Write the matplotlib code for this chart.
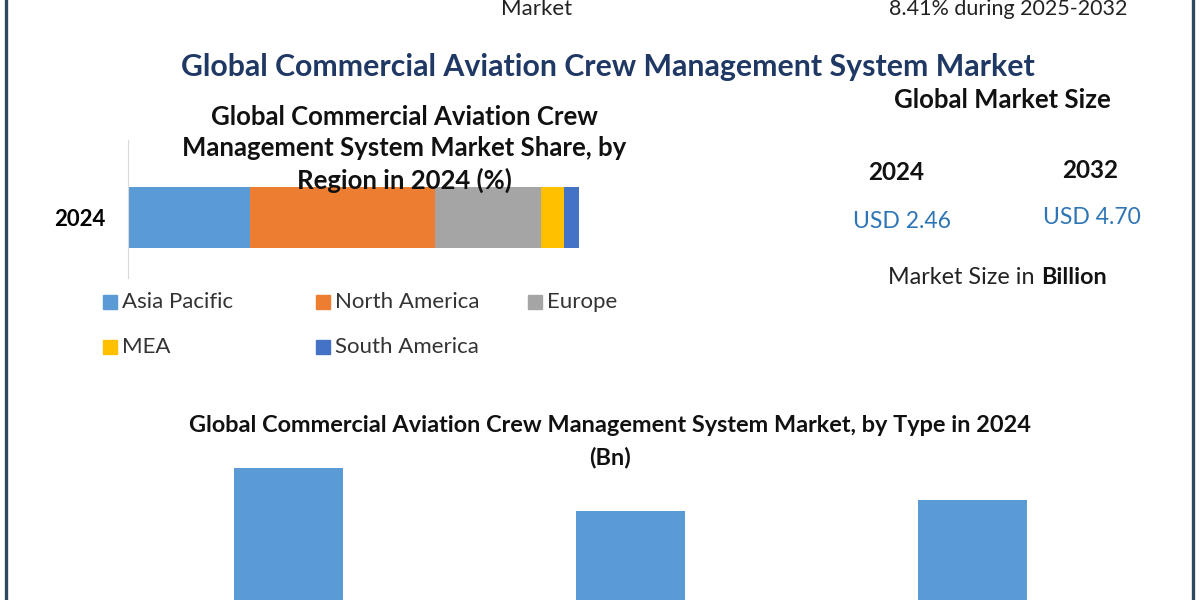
import matplotlib
matplotlib.use("Agg")
import matplotlib.pyplot as plt
from matplotlib.patches import Rectangle
from matplotlib.lines import Line2D

plt.rcParams['font.family'] = ['Lato', 'DejaVu Sans']

# Dane - udział regionów 2024 (%)
regions = ["Asia Pacific", "North America", "Europe", "MEA", "South America"]
region_share = [27.1, 41.0, 23.5, 5.1, 3.3]
region_colors = ["#5B9BD5", "#ED7D31", "#A5A5A5", "#FFC000", "#4472C4"]

# Dane - wielkość rynku
size_years = ["2024", "2032"]
size_values = ["USD 2.46", "USD 4.70"]

# Dane - rynek wg typu 2024 (Bn)
types = ["Crew Scheduling", "Crew Tracking", "Others"]
type_values = [0.93, 0.74, 0.79]

W, H = 1200, 600
fig = plt.figure(figsize=(12, 6), dpi=100)


def fx(x):
    return x / W


def fy(y):
    return 1 - y / H


def ax_rect(x0, y0, x1, y1):
    # piksele (góra-lewo) -> współrzędne figury
    return [fx(x0), fy(y1), fx(x1) - fx(x0), (y1 - y0) / H]


# ramka po bokach
for x in (6, 1193):
    fig.add_artist(Line2D([fx(x), fx(x)], [0, 1], color="#2E4A62", lw=2.4))

# ucięty tekst na górze
fig.text(fx(537), fy(15), "Market", ha="center", va="baseline", fontsize=16, color="#222222")
fig.text(fx(1008), fy(15), "8.41% during 2025-2032", ha="center", va="baseline", fontsize=15.5, color="#222222")

# tytuł główny
fig.text(fx(608), fy(67), "Global Commercial Aviation Crew Management System Market",
         ha="center", va="center", fontsize=21.8, fontweight="bold", color="#1F3864")

# --- wykres skumulowany (region) ---
ax1 = fig.add_axes(ax_rect(128, 140, 579, 278))
left = 0
for name, val, col in zip(regions, region_share, region_colors):
    ax1.barh(0, val, left=left, height=1.0, color=col, label=name)
    left += val
ax1.set_xlim(0, 100)
ax1.set_ylim(-0.99, 1.27)
for s in ("top", "right", "bottom"):
    ax1.spines[s].set_visible(False)
ax1.spines["left"].set_color("#D9D9D9")
ax1.set_xticks([])
ax1.set_yticks([0])
ax1.set_yticklabels(["2024"], fontsize=16, fontweight="bold")
ax1.tick_params(axis="y", length=0, pad=16)
ax1.patch.set_alpha(0)

fig.text(fx(404), fy(149),
         "Global Commercial Aviation Crew\nManagement System Market Share, by\nRegion in 2024 (%)",
         ha="center", va="center", fontsize=18.5, fontweight="bold", linespacing=1.38, color="#111111")

# legenda
leg_pos = [(103, 302), (316, 302), (528, 302), (103, 347), (316, 347)]
for (x, y), name, col in zip(leg_pos, regions, region_colors):
    fig.add_artist(Rectangle((fx(x), fy(y + 7)), 14 / W, 14 / H, color=col, transform=fig.transFigure))
    fig.text(fx(x + 19), fy(y), name, ha="left", va="center", fontsize=16, color="#333333")

# --- wielkość rynku ---
fig.text(fx(1002), fy(100), "Global Market Size", ha="center", va="center",
         fontsize=18.5, fontweight="bold", color="#111111")
for x, yr, y in zip([896, 1090], size_years, [172, 170]):
    fig.text(fx(x), fy(y), yr, ha="center", va="center", fontsize=17.5, fontweight="bold", color="#111111")
for x, val, y in zip([902, 1092], size_values, [222, 218]):
    fig.text(fx(x), fy(y), val, ha="center", va="center", fontsize=16.5, color="#2E75B6")
fig.text(fx(1041), fy(277), "Market Size in ", ha="right", va="center", fontsize=16.8, color="#222222")
fig.text(fx(1041), fy(277), "Billion", ha="left", va="center", fontsize=16.8, fontweight="bold", color="#111111")

# --- wykres wg typu ---
fig.text(fx(610), fy(425), "Global Commercial Aviation Crew Management System Market, by Type in 2024",
         ha="center", va="center", fontsize=16.9, fontweight="bold", color="#111111")
fig.text(fx(610), fy(458), "(Bn)", ha="center", va="center", fontsize=16.9, fontweight="bold", color="#111111")

# oś sięga poniżej dolnej krawędzi - w oryginale słupki są ucięte
ax2 = fig.add_axes(ax_rect(117.5, 450, 1143.5, 680))
ax2.bar(range(len(types)), type_values, width=0.32, color="#5B9BD5")
ax2.set_xlim(-0.5, 2.5)
ax2.set_ylim(0, 1.01)
ax2.set_xticks([])
ax2.set_yticks([])
for s in ax2.spines.values():
    s.set_visible(False)
ax2.patch.set_alpha(0)

fig.savefig("out.png", dpi=100, facecolor="white")
